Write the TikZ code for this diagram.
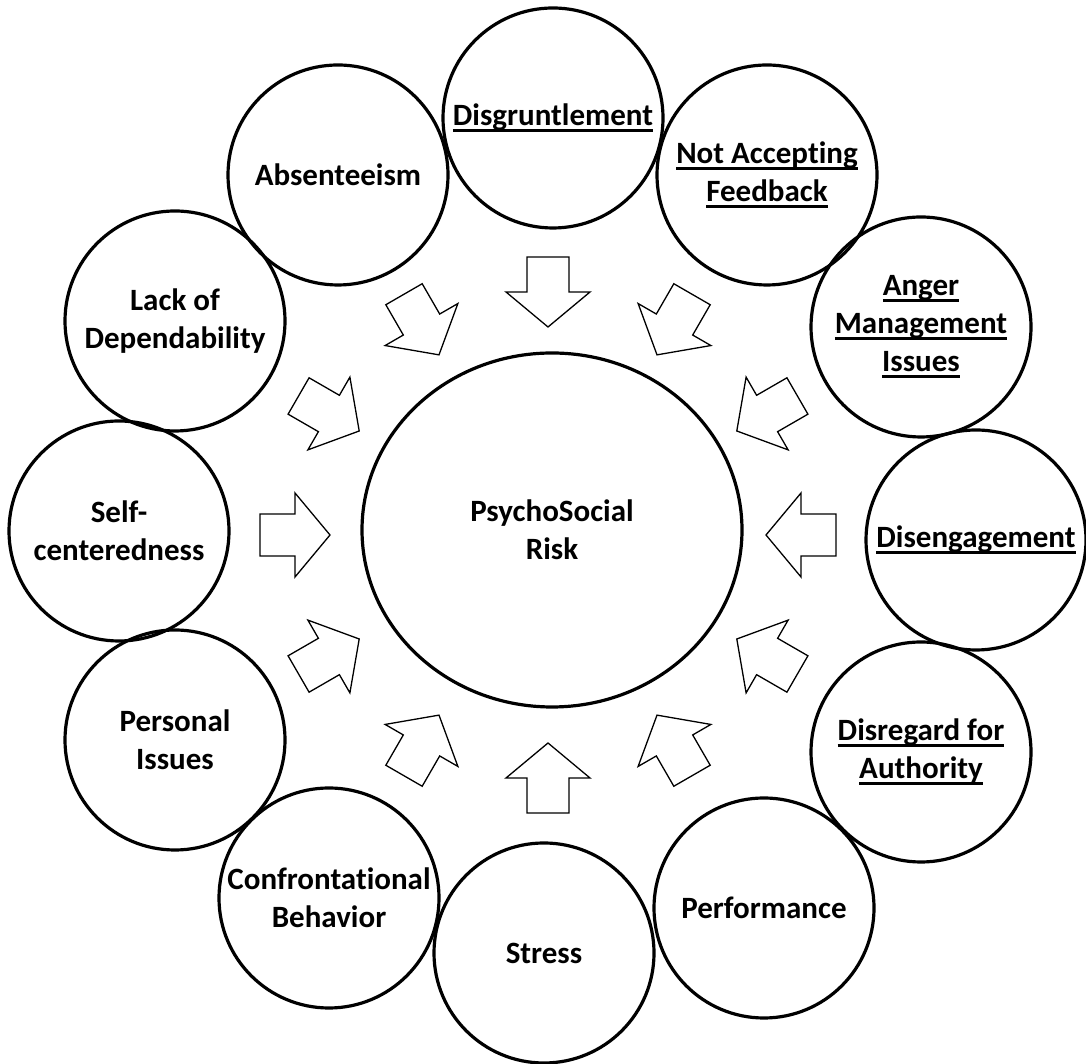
\documentclass[tikz,border=0pt]{standalone}
\usepackage{fontspec}
\setmainfont[Ligatures=NoCommon]{Carlito}
\usetikzlibrary{calc,shapes.geometric}
\newcommand\myul[1]{\setbox0\hbox{#1}\rlap{\rule[-6.5pt]{\wd0}{2.8pt}}\box0}
\begin{document}
\begin{tikzpicture}[x=1pt,y=1pt,
  bub/.style={circle, draw, line width=3.2pt, minimum size=220pt, inner sep=0pt, align=center,
    font=\fontsize{31}{38}\selectfont\bfseries},
  hub/.style={ellipse, draw, line width=3.2pt, minimum width=380pt, minimum height=354pt, inner sep=0pt,
    align=center, font=\fontsize{31}{38}\selectfont\bfseries},
  inarrow/.style={draw, line width=1.3pt, line join=miter}]
\useasboundingbox (0,0) rectangle (1086,1064);
\node[hub] (risk) at (552,534) {PsychoSocial\\Risk};
\node[bub] (dis) at (553,946) {\myul{Disgruntlement}};
\node[bub] (naf) at (767,889) {\myul{Not Accepting}\\\myul{Feedback}};
\node[bub] (ang) at (921,737) {\myul{Anger}\\\myul{Management}\\\myul{Issues}};
\node[bub] (den) at (976,524) {\myul{Disengagement}};
\node[bub] (dra) at (921,312) {\myul{Disregard for}\\\myul{Authority}};
\node[bub] (per) at (764,156) {Performance};
\node[bub] (str) at (544,111) {Stress};
\node[bub] (con) at (329,166) {Confrontational\\Behavior};
\node[bub] (pis) at (175,324) {Personal\\Issues};
\node[bub] (sel) at (119,533) {Self-\\centeredness};
\node[bub] (lac) at (175,743) {Lack of\\Dependability};
\node[bub] (abs) at (338,889) {Absenteeism};
\coordinate (ring) at (548,529);
\foreach \a in {0,30,...,330}{
  \path (ring) ++(\a:253pt and 243pt) coordinate (ar\a);
  \draw[inarrow, shift={(ar\a)}, rotate=\a+180]
    (-35,-21) -- (0,-21) -- (0,-42) -- (35,0) -- (0,42) -- (0,21) -- (-35,21) -- cycle;
}
\end{tikzpicture}
\end{document}
